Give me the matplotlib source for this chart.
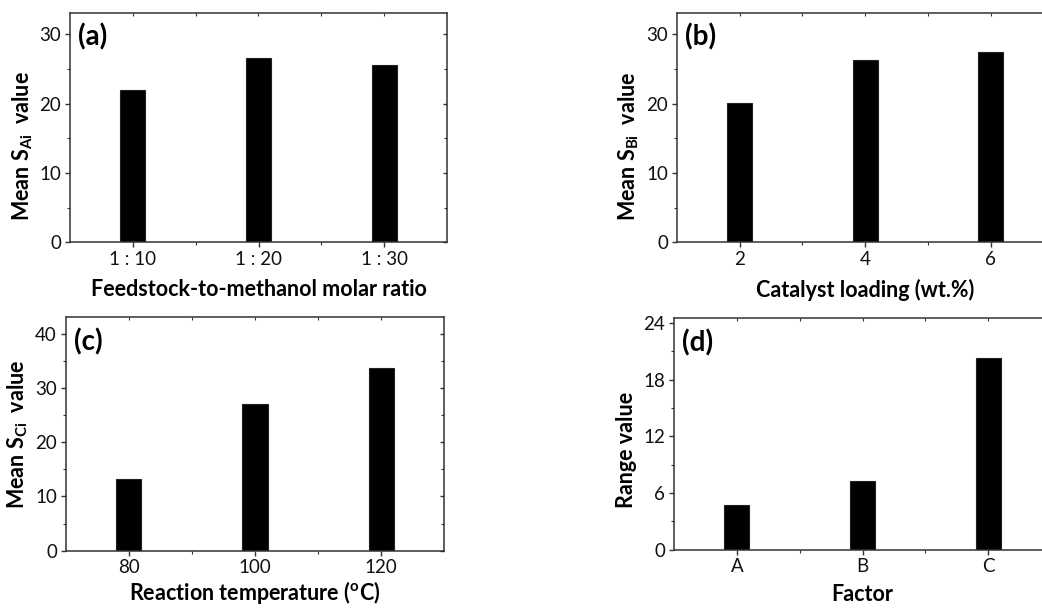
import matplotlib
matplotlib.use('Agg')
import matplotlib.pyplot as plt
from matplotlib.ticker import MultipleLocator, FixedLocator

plt.rcParams['font.family'] = 'Lato'
plt.rcParams['mathtext.fontset'] = 'custom'
plt.rcParams['mathtext.rm'] = 'Lato'
plt.rcParams['mathtext.bf'] = 'Lato:bold'

# valores
razao_molar = ['1 : 10', '1 : 20', '1 : 30']
media_sa = [21.9, 26.6, 25.5]

carga_catalisador = ['2', '4', '6']
media_sb = [20.1, 26.3, 27.4]

temperatura = ['80', '100', '120']
media_sc = [13.2, 27.1, 33.6]

fatores = ['A', 'B', 'C']
amplitude = [4.73, 7.26, 20.34]

W, H = 1042, 608
fig = plt.figure(figsize=(W / 100, H / 100), dpi=100)
fig.patch.set_facecolor('white')

cor_eixo = '#333333'


def painel(pos, rotulos, valores, ymax, passo, letra, xlabel, ylabel, ylab_y, xlab_dist):
    left, top, right, bottom = pos
    h = bottom - top
    ax = fig.add_axes([left / W, (H - bottom) / H, (right - left) / W, h / H])
    x = list(range(len(rotulos)))
    ax.bar(x, valores, width=0.2, color='black', edgecolor='#222222', linewidth=0.8)
    ax.set_xlim(-0.5, len(rotulos) - 0.5)
    ax.set_ylim(0, ymax)
    ax.set_xticks(x)
    ax.set_xticklabels(rotulos)
    ax.xaxis.set_minor_locator(FixedLocator([0.5, 1.5]))
    ax.yaxis.set_major_locator(MultipleLocator(passo))
    ax.yaxis.set_minor_locator(MultipleLocator(passo / 2))
    for s in ax.spines.values():
        s.set_color(cor_eixo)
        s.set_linewidth(1.1)
    ax.tick_params(which='major', direction='out', length=3.8, width=1, color=cor_eixo,
                   labelsize=13.5, pad=2.5, labelcolor='#111111')
    ax.tick_params(which='minor', direction='out', length=2.3, width=0.8, color=cor_eixo)
    # ticks espelhados para dentro (estilo Origin)
    topo = ax.secondary_xaxis('top')
    topo.set_xticks(x)
    topo.xaxis.set_minor_locator(FixedLocator([0.5, 1.5]))
    topo.tick_params(which='both', direction='in', labeltop=False, color=cor_eixo, length=2.5, width=0.8)
    topo.spines['top'].set_visible(False)
    direita = ax.secondary_yaxis('right')
    direita.yaxis.set_major_locator(MultipleLocator(passo))
    direita.yaxis.set_minor_locator(MultipleLocator(passo / 2))
    direita.tick_params(which='major', direction='in', labelright=False, color=cor_eixo, length=3, width=1)
    direita.tick_params(which='minor', direction='in', labelright=False, color=cor_eixo, length=2, width=0.8)
    direita.spines['right'].set_visible(False)
    ax.text(0.022, 0.895, letra, transform=ax.transAxes, fontsize=20, fontweight='bold',
            va='center', ha='left')
    ax.set_xlabel(xlabel, fontsize=15.5, fontweight='bold')
    ax.set_ylabel(ylabel, fontsize=15.5, fontweight='bold')
    ax.xaxis.label.set_verticalalignment('baseline')
    ax.yaxis.label.set_verticalalignment('baseline')
    ax.xaxis.set_label_coords(0.5, -xlab_dist / h)
    ax.yaxis.set_label_coords(-41 / (right - left), ylab_y)
    return ax


painel((70, 13.3, 447, 242.3), razao_molar, media_sa, 33, 10, '(a)',
       'Feedstock-to-methanol molar ratio', r'Mean S$_{\mathbf{Ai}}$  value', 0.42, 54)
painel((676.7, 13.3, 1053.7, 242.3), carga_catalisador, media_sb, 33, 10, '(b)',
       'Catalyst loading (wt.%)', r'Mean S$_{\mathbf{Bi}}$  value', 0.42, 55)
painel((65.7, 317.3, 444.3, 550.7), temperatura, media_sc, 43, 10, '(c)',
       r'Reaction temperature ($^{\mathbf{o}}$C)', r'Mean S$_{\mathbf{Ci}}$  value', 0.5, 49.5)
painel((674, 318.3, 1051, 549.7), fatores, amplitude, 24.5, 6, '(d)',
       'Factor', 'Range value', 0.43, 51)

fig.savefig('out.png', dpi=100, facecolor='white')
